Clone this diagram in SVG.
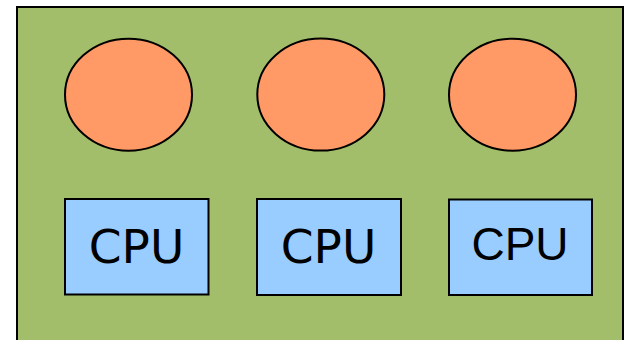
<svg xmlns="http://www.w3.org/2000/svg" width="625" height="340" viewBox="0 0 625 340">
  <style>
    .board { fill: #a3be6a; stroke: #000; stroke-width: 2; }
    .core { fill: #ff9966; stroke: #000; stroke-width: 2; }
    .cpu { fill: #99ccff; stroke: #000; stroke-width: 2; }
    .label { fill: #000; text-anchor: middle; }
    .dv { font-family: "DejaVu Sans", sans-serif; font-size: 47px; }
    .ls { font-family: "Liberation Sans", Arial, sans-serif; font-size: 46px; }
  </style>
  <rect width="625" height="340" fill="#fff"/>
  <rect class="board" x="17" y="7" width="606" height="345"/>
  <g id="core1"><ellipse class="core" cx="128.5" cy="94.7" rx="63.5" ry="56"/></g>
  <g id="core2"><ellipse class="core" cx="320.8" cy="94.6" rx="63.5" ry="56"/></g>
  <g id="core3"><ellipse class="core" cx="512.5" cy="94.7" rx="63.5" ry="56"/></g>
  <g id="cpu1">
    <rect class="cpu" x="65" y="199" width="143.5" height="95.5"/>
    <text class="label dv" x="136.5" y="263.3">CPU</text>
  </g>
  <g id="cpu2">
    <rect class="cpu" x="257" y="199" width="144" height="96"/>
    <text class="label dv" x="328.5" y="263.3">CPU</text>
  </g>
  <g id="cpu3">
    <rect class="cpu" x="449" y="199.5" width="143" height="95.5"/>
    <text class="label ls" x="520" y="259.5">CPU</text>
  </g>
  <g id="connectors"/>
</svg>
